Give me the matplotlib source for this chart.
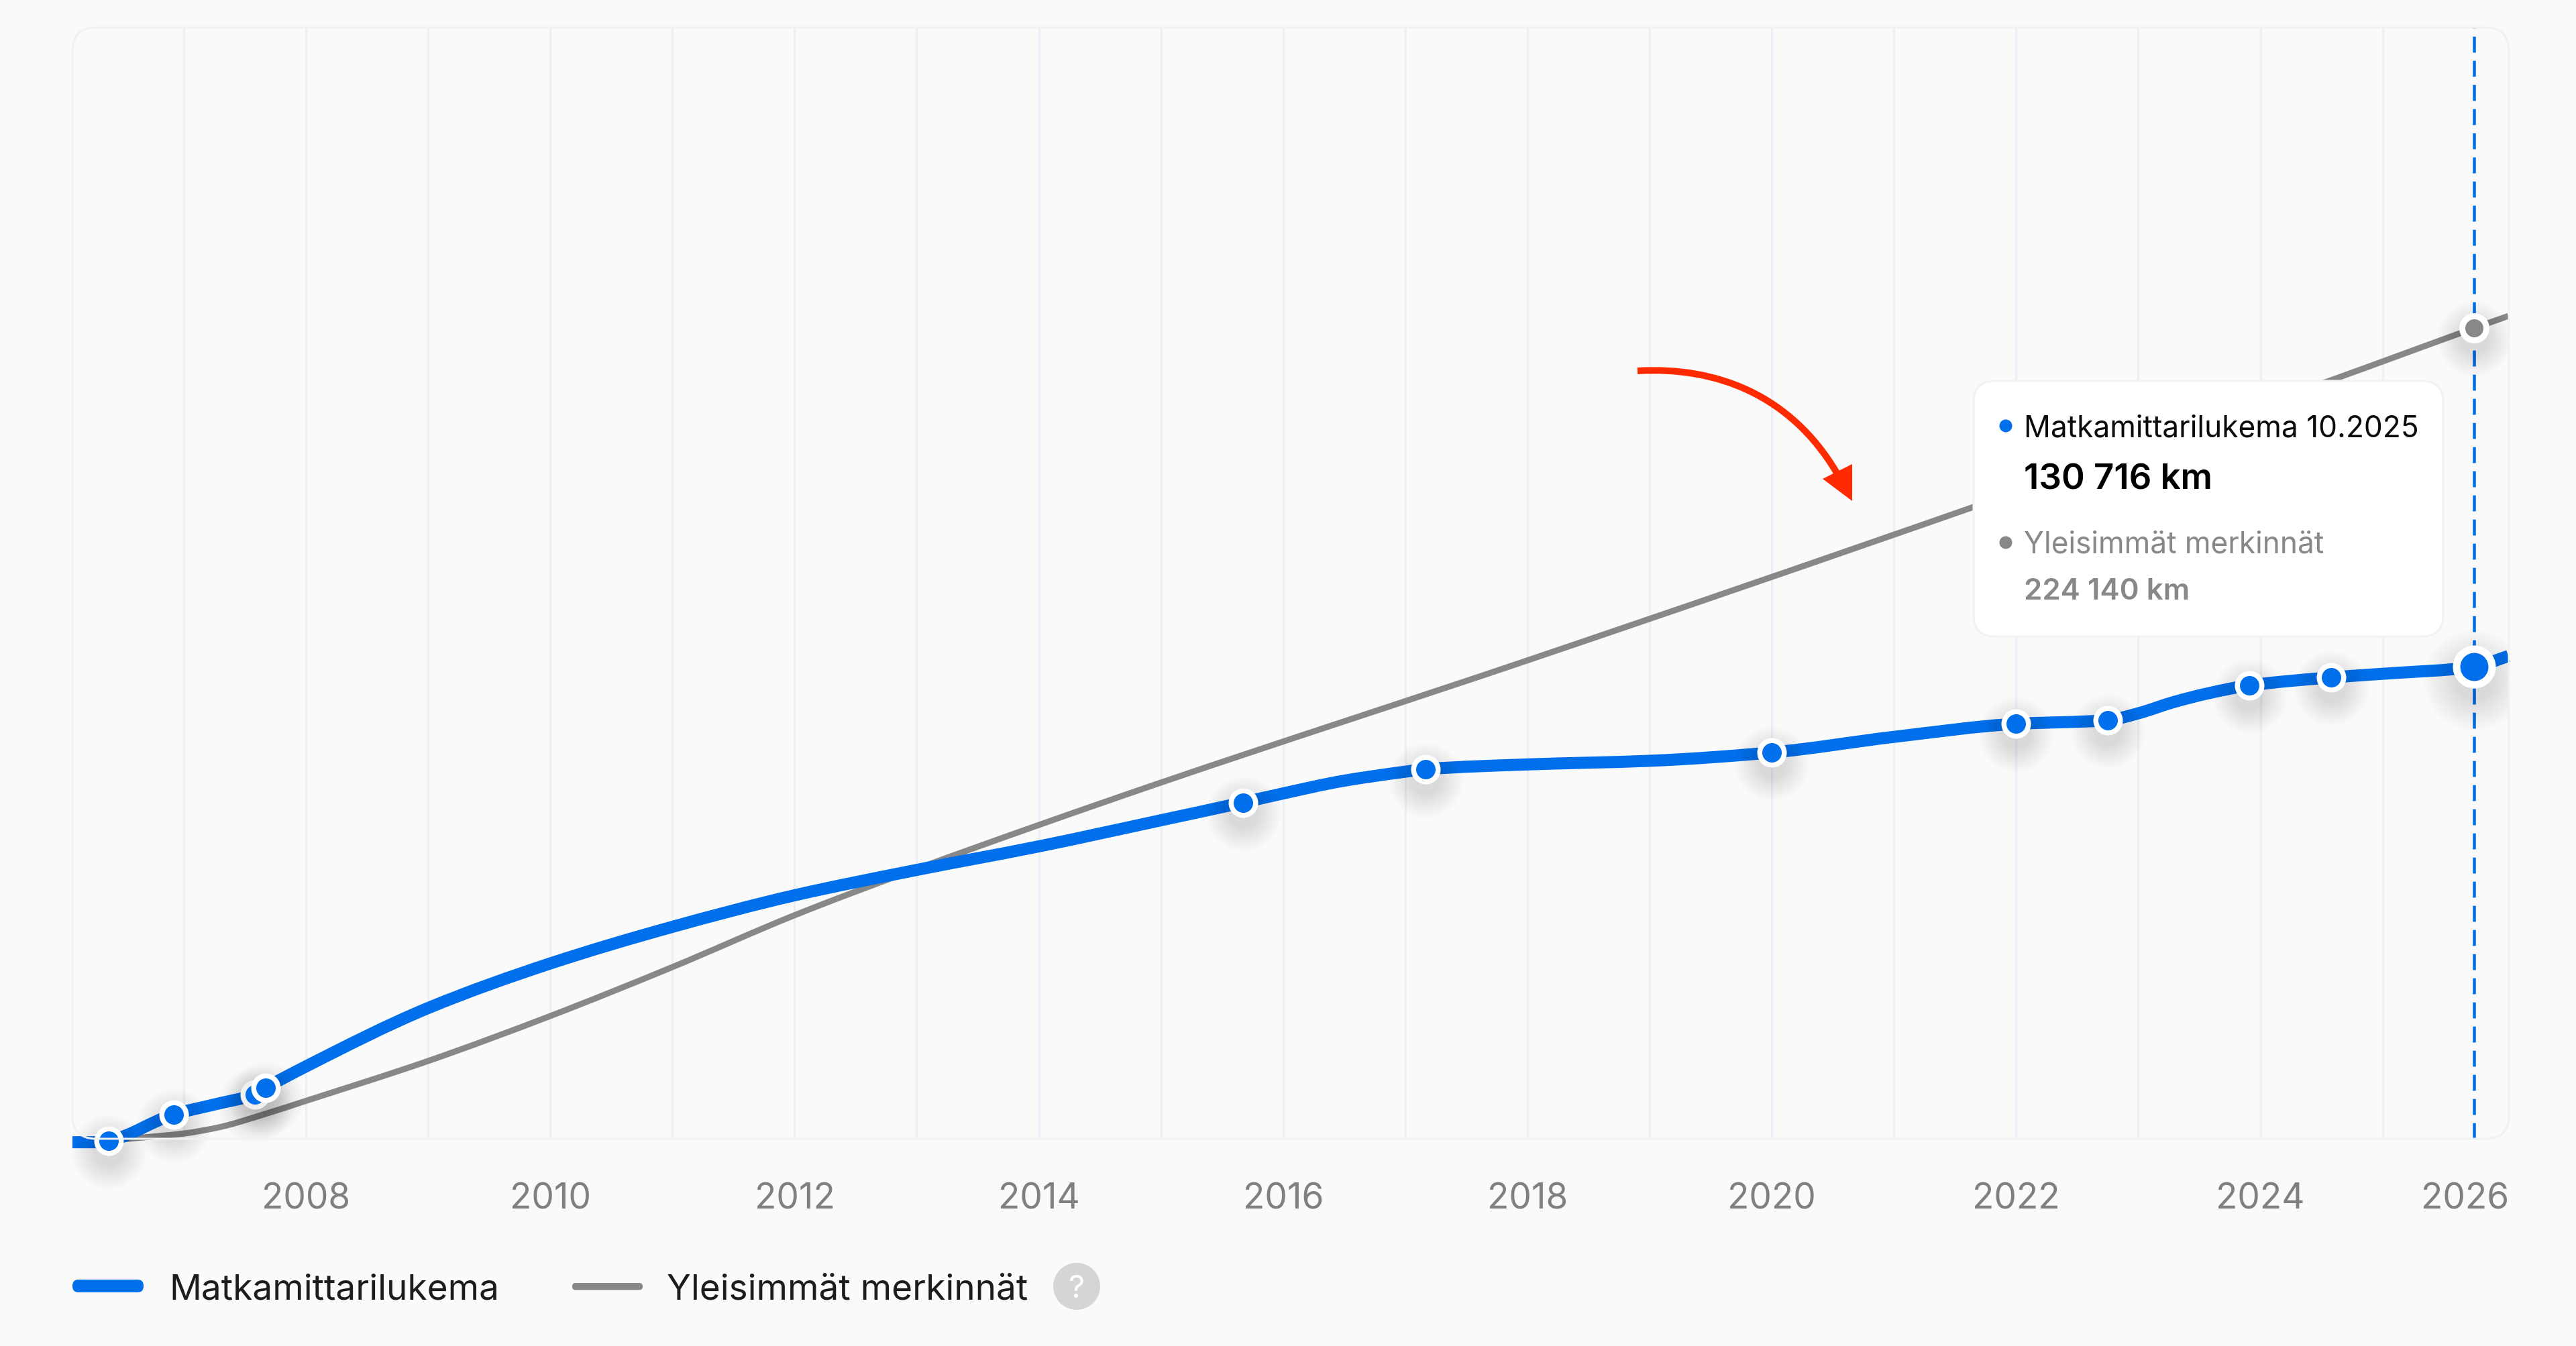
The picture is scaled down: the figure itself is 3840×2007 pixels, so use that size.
import numpy as np
import matplotlib
matplotlib.use("Agg")
import matplotlib.pyplot as plt
from matplotlib.path import Path
from matplotlib.patches import PathPatch, FancyBboxPatch, Circle, Polygon
from matplotlib.transforms import Affine2D, offset_copy

# ---- data (years, km) ----
blue_years = [2006.089, 2006.3, 2006.386, 2006.92, 2007.25, 2007.58, 2007.67, 2008, 2009, 2010, 2011, 2012, 2013,
              2014, 2015, 2015.67, 2016, 2016.48, 2017, 2017.165, 2018, 2019, 2020, 2021, 2022,
              2022.75, 2023, 2023.29, 2023.57, 2023.91, 2024.58, 2025, 2025.75, 2026.03]
blue_km = [-400, -400, 0, 7300, 10000, 12800, 14600, 20500, 36600, 48900, 59000, 67700, 74700,
           81200, 88400, 93300, 95800, 99200, 101800, 102500, 103800, 104800, 107100, 111400, 115000,
           116000, 117900, 121000, 123400, 125600, 127800, 128800, 130716, 133700]
gray_years = [2006.386, 2006.63, 2007, 2007.3, 2007.62, 2008, 2009, 2010, 2011, 2012, 2013, 2014, 2015,
              2018, 2021.65, 2024.61, 2025.75, 2026.03]
gray_km = [0, 800, 2000, 3800, 6900, 11000, 22000, 34400, 47900, 62200, 75000, 87100, 98800,
           132500, 174800, 210160, 224140, 227500]
marker_years = [2006.386, 2006.92, 2007.67, 2015.67, 2017.165, 2020, 2022, 2022.75, 2023.91, 2024.58]
marker_km = [0, 7300, 14600, 93300, 102500, 107100, 115000, 116000, 125600, 127800]
faded_marker_year = [2007.58]
faded_marker_km = [12800]
current_year = 2025.75
current_blue_km = 130716
current_gray_km = 224140
grid_years = list(range(2007, 2026))
tick_years = list(range(2008, 2027, 2))
series_names = ["Matkamittarilukema", "Yleisimmät merkinnät"]
tooltip_lines = ["Matkamittarilukema 10.2025", "130 716 km", "Yleisimmät merkinnät", "224 140 km"]

BLUE = "#006FEB"
GRAY = "#888888"
RED = "#FF2A00"
BG = "#FAFAFA"
W, H = 3840, 2007
px = 72 / 100  # points per pixel at dpi 100

plt.rcParams["font.family"] = ["Inter", "DejaVu Sans"]
fig = plt.figure(figsize=((W + 0.2) / 100, (H + 0.2) / 100), dpi=100, facecolor=BG)
L, R, T, B = 108, 3739, 41, 1698
ax = fig.add_axes([L / W, (H - B) / H, (R - L) / W, (B - T) / H])
ax.set_xlim(2006.089, 2026.03)
ax.set_ylim(555, 307100)
ax.patch.set_visible(False)
for s in ax.spines.values():
    s.set_visible(False)
ax.set_yticks([])
ax.set_xticks(tick_years)
ax.tick_params(axis="x", length=0, pad=0, labelbottom=False)

PIX = Affine2D().scale(1, -1).translate(0, H)  # layout helper: reference pixels -> display

# frame
frame = FancyBboxPatch((L + 35, T + 35), R + 1 - L - 70, B - T - 70, boxstyle="round,pad=35,rounding_size=35",
                       fc="none", ec="#F1F1F1", lw=3 * px, transform=PIX, zorder=1)
fig.add_artist(frame)
# grid
for y in grid_years:
    ax.axvline(y, color="#E9F0F8", lw=3.2 * px, zorder=1.5)


def smooth_path(xs, ys):
    """Monotone cubic Bezier through the read points."""
    xs, ys = np.asarray(xs, float), np.asarray(ys, float)
    h = np.diff(xs)
    d = np.diff(ys) / h
    m = np.zeros_like(xs)
    m[0], m[-1] = d[0], d[-1]
    for i in range(1, len(xs) - 1):
        if d[i - 1] * d[i] > 0:
            w1 = 2 * h[i] + h[i - 1]
            w2 = h[i] + 2 * h[i - 1]
            m[i] = (w1 + w2) / (w1 / d[i - 1] + w2 / d[i])
    verts = [(xs[0], ys[0])]
    codes = [Path.MOVETO]
    for i in range(len(h)):
        verts += [(xs[i] + h[i] / 3, ys[i] + m[i] * h[i] / 3),
                  (xs[i + 1] - h[i] / 3, ys[i + 1] - m[i + 1] * h[i] / 3),
                  (xs[i + 1], ys[i + 1])]
        codes += [Path.CURVE4] * 3
    return Path(verts, codes)


ax.add_patch(PathPatch(smooth_path(gray_years, gray_km), fc="none", ec=GRAY, lw=9 * px, capstyle="butt",
                       clip_on=False, zorder=3))
ax.add_patch(PathPatch(smooth_path(blue_years, blue_km), fc="none", ec=BLUE, lw=18 * px, capstyle="butt",
                       clip_on=False, zorder=4))

# current-month dashed line
ax.plot([current_year, current_year], [555, 307100], color=BLUE, lw=4.5 * px, dashes=(5.3, 2.7),
        clip_on=False, zorder=2.5)

# shadows
shadow_tr = offset_copy(ax.transData, fig=fig, x=0, y=-16, units="dots")
shadow_big = offset_copy(ax.transData, fig=fig, x=0, y=-20, units="dots")
all_x = marker_years + faded_marker_year
all_y = marker_km + faded_marker_km
for r in np.linspace(44, 112, 16):
    ax.plot(all_x, all_y, "o", ms=r * px, mfc="#000000", mec="none", alpha=0.008, transform=shadow_tr,
            clip_on=False, zorder=4.5)
    ax.plot([current_year], [current_gray_km], "o", ms=r * px, mfc="#000000", mec="none", alpha=0.008,
            transform=shadow_tr, zorder=4.5)
    ax.plot([current_year], [current_blue_km], "o", ms=r * 1.35 * px, mfc="#000000", mec="none", alpha=0.008,
            transform=shadow_big, zorder=4.5)

# markers
ax.plot(faded_marker_year, faded_marker_km, "o", ms=36.5 * px, mfc=BLUE, mec="#EFEFEF", mew=7.5 * px, clip_on=False, zorder=5)
ax.plot(marker_years, marker_km, "o", ms=36.5 * px, mfc=BLUE, mec="white", mew=7.5 * px, clip_on=False, zorder=5)
ax.plot([current_year], [current_gray_km], "o", ms=36 * px, mfc=GRAY, mec="white", mew=9 * px, zorder=5)
ax.plot([current_year], [current_blue_km], "o", ms=53 * px, mfc=BLUE, mec="white", mew=11 * px, zorder=5)

# tick labels
for y in tick_years:
    ha = "right" if y == 2026 else "center"
    xp = R + 1 if y == 2026 else ax.transData.transform((y, 0))[0]
    fig.text(xp / W, (H - 1802) / H, str(y), ha=ha, va="baseline", color="#808080", fontsize=38.3)

# red arrow
ax_arrow = Path([(2441, 553), (2560, 546), (2670, 590), (2738, 705)],
                [Path.MOVETO, Path.CURVE4, Path.CURVE4, Path.CURVE4])
fig.add_artist(PathPatch(ax_arrow, fc="none", ec=RED, lw=10 * px, capstyle="butt", transform=PIX, zorder=6))
fig.add_artist(Polygon([(2717, 714), (2761, 692), (2761, 747)], closed=True, fc=RED, ec="none", transform=PIX, zorder=6))

# tooltip
tip = FancyBboxPatch((2942 + 32, 568 + 32), 3642 - 2942 - 64, 949 - 568 - 64, boxstyle="round,pad=32,rounding_size=32",
                     fc="white", ec="#F2F2F2", lw=3 * px, transform=PIX, zorder=7)
fig.add_artist(tip)
fig.add_artist(Circle((2990, 635), 9.5, fc=BLUE, ec="none", transform=PIX, zorder=8))
fig.add_artist(Circle((2990, 809), 9.5, fc=GRAY, ec="none", transform=PIX, zorder=8))
tx = 3017 / W
fig.text(tx, (H - 651) / H, tooltip_lines[0], fontsize=31.8, color="#0B0B0B", zorder=8)
fig.text(tx, (H - 729.5) / H, tooltip_lines[1], fontsize=38, color="#000000", fontweight="semibold", zorder=8)
fig.text(tx, (H - 824) / H, tooltip_lines[2], fontsize=31.8, color=GRAY, zorder=8)
fig.text(tx, (H - 894) / H, tooltip_lines[3], fontsize=31.6, color=GRAY, fontweight="semibold", zorder=8)

# legend
fig.add_artist(FancyBboxPatch((117, 1917), 88, 1, boxstyle="round,pad=9", fc=BLUE, ec="none", transform=PIX))
fig.add_artist(FancyBboxPatch((858, 1918), 95, 0.5, boxstyle="round,pad=5", fc=GRAY, ec="none", transform=PIX))
fig.text(252 / W, (H - 1937) / H, series_names[0], fontsize=38.2, color="#1C1C1C")
fig.text(994 / W, (H - 1937) / H, series_names[1], fontsize=38.2, color="#1C1C1C")
fig.add_artist(Circle((1605, 1918), 35, fc="#D5D5D5", ec="none", transform=PIX))
fig.text(1605 / W, (H - 1918) / H, "?", fontsize=34, color="white", ha="center", va="center_baseline")

fig.savefig("out.png", dpi=100, facecolor=BG)
